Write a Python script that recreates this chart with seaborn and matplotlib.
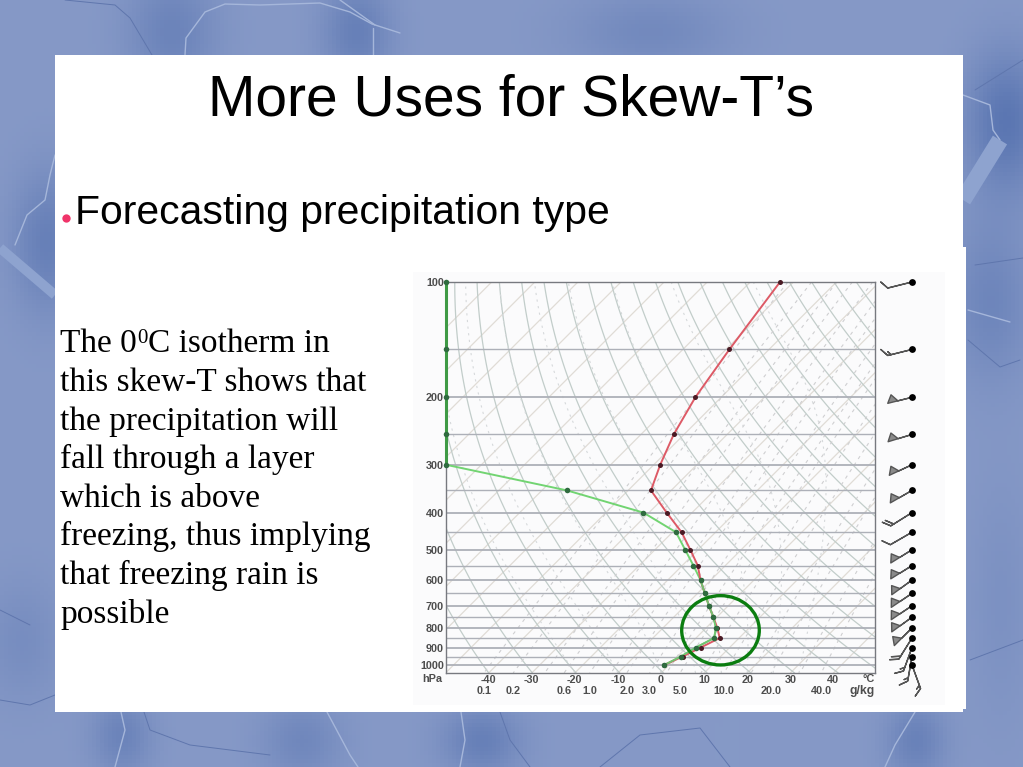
import numpy as np
import pandas as pd
import matplotlib
matplotlib.use("Agg")
import matplotlib.pyplot as plt
from matplotlib.patches import Rectangle, Ellipse
import seaborn as sns

TITLE = "More Uses for Skew-T\u2019s"
BULLET = "Forecasting precipitation type"
BODY = ["this skew-T shows that", "the precipitation will", "fall through a layer",
        "which is above", "freezing, thus implying", "that freezing rain is", "possible"]

levels = [100, 150, 200, 250, 300, 350, 400, 450, 500, 550, 600, 650, 700, 750, 800, 850, 900, 950, 1000]
temperature = [-63.1, -59.2, -56.0, -52.4, -48.5, -44.7, -35.9, -27.9, -21.8, -16.4, -12.4, -8.3, -4.5, -0.8, 2.6, 5.5, 3.3, 1.2, -1.1]
dewpoint = [-141.0, -126.0, -115.0, -106.0, -99.0, -64.2, -41.3, -29.2, -23.0, -17.4, -12.4, -8.3, -4.5, -0.8, 2.3, 4.2, 2.2, 0.8, -1.1]
wind_speed = [10, 15, 50, 50, 50, 50, 20, 10, 50, 50, 50, 50, 50, 50, 50, 20, 15, 15, 15]
wind_dir = [256, 256, 256, 253, 245, 240, 238, 240, 238, 238, 234, 236, 236, 234, 225, 212, 200, 190, 160]

pressure_ticks = [100, 200, 300, 400, 500, 600, 700, 800, 900, 1000]
temp_ticks = [-40, -30, -20, -10, 0, 10, 20, 30, 40]
mixing_labels = ["0.1", "0.2", "0.6", "1.0", "2.0", "3.0", "5.0", "10.0", "20.0", "40.0"]
mixing_values = [0.1, 0.2, 0.6, 1.0, 2.0, 3.0, 5.0, 10.0, 20.0, 40.0]
mixing_grid = [0.1, 0.2, 0.4, 0.6, 1, 1.5, 2, 3, 4, 5, 7, 10, 15, 20, 30, 40]
theta_grid = list(range(200, 560, 10))
moist_grid = [-20, -10, 0, 8, 14, 20, 26, 32]
isotherm_grid = list(range(-140, 60, 10))

W, H = 1023, 767
P_BOTTOM, P_TOP = 1049.0, 100.0
SKEW = 88.86


def skew(t, p):
    return np.asarray(t, float) + SKEW * np.log10(P_BOTTOM / np.asarray(p, float))


sns.set_theme(style="white")
plt.rcParams["font.family"] = ["Liberation Sans", "DejaVu Sans"]
fig = plt.figure(figsize=(W / 100, H / 100), dpi=100)


def axes_px(x0, y0, x1, y1, **kw):
    return fig.add_axes([x0 / W, 1 - y1 / H, (x1 - x0) / W, (y1 - y0) / H], **kw)


# page background: soft blue with darker clouds and veins
bg = axes_px(0, 0, W, H)
bg.set_xlim(0, W)
bg.set_ylim(H, 0)
bg.axis("off")
yy, xx = np.mgrid[0:H:4, 0:W:4]
shade = np.zeros_like(xx, float)
blobs = [(170, 30, 45, 60, .55), (355, 30, 35, 50, .65), (45, 240, 35, 70, .65), (120, 735, 30, 40, .55),
         (300, 740, 40, 40, .45), (480, 740, 40, 35, .65), (915, 740, 30, 40, .6), (1005, 120, 40, 70, .9),
         (990, 300, 40, 80, .5), (650, 30, 80, 40, .4), (20, 640, 40, 60, .3), (1000, 600, 30, 120, .2)]
for bx_, by_, sx, sy, a in blobs:
    shade += a * np.exp(-((xx - bx_) / sx) ** 2 - ((yy - by_) / sy) ** 2)
shade = np.clip(shade, 0, 1)[..., None]
light, dark = np.array([0.525, 0.60, 0.78]), np.array([0.34, 0.45, 0.69])
bg.imshow(light * (1 - shade) + dark * shade, extent=(0, W, H, 0), aspect="auto", zorder=0)
veins_light = [[(185, 55), (186, 38), (205, 12), (225, 4), (260, 5), (320, 3), (350, 12), (372, 24), (400, 33)],
               ((340, 0), (375, 25)), ((373, 28), (373, 55)),
               [(55, 155), (50, 175), (45, 200), (27, 215), (15, 245)],
               [(963, 95), (990, 105), (993, 130), (1000, 140)], [(121, 712), (125, 730), (115, 767)],
               [(327, 712), (350, 755), (358, 767)], [(461, 712), (465, 740), (460, 767)],
               [(915, 712), (895, 745), (885, 767)], [(968, 310), (1010, 322)]]
veins_dark = [[(65, 0), (115, 5), (130, 18), (152, 55)], [(975, 90), (1023, 60)], [(975, 265), (1023, 258)],
              [(144, 712), (150, 730), (190, 745), (270, 755)], [(500, 712), (510, 740), (530, 767)],
              [(600, 767), (640, 735), (700, 728), (730, 767)], [(968, 340), (1000, 367), (1020, 360)],
              [(970, 660), (1023, 640)], [(0, 700), (30, 705), (55, 695)], [(0, 610), (30, 625)]]
for v in veins_light:
    a = np.array(v)
    bg.plot(a[:, 0], a[:, 1], color="#a5b6da", lw=1.0, zorder=1)
for v in veins_dark:
    a = np.array(v)
    bg.plot(a[:, 0], a[:, 1], color="#5f76ad", lw=0.7, zorder=1)
bg.plot([0, 55], [248, 295], color="#8ea3cf", lw=7, zorder=1, solid_capstyle="butt")
bg.plot([1000, 963], [140, 200], color="#8ea3cf", lw=12, zorder=1, solid_capstyle="butt")

# white slide panels
bg.add_patch(Rectangle((55, 55), 908, 657, fc="white", ec="none", zorder=2))
bg.add_patch(Rectangle((55, 247), 911, 462, fc="white", ec="none", zorder=2))
bg.add_patch(Rectangle((413, 272), 532, 433, fc="#fbfbfc", ec="none", zorder=3))

# slide text
bg.text(511, 116, TITLE, fontsize=41, ha="center", va="baseline", color="black", zorder=5)
bg.text(75, 224, BULLET, fontsize=29.4, ha="left", va="baseline", color="black", zorder=5)
bg.plot([66], [218], "o", color="#f0346a", ms=6, mew=0, zorder=5)
serif = ["Liberation Serif", "DejaVu Serif"]
BODY_SIZE = 24
bg.text(60, 352, "The 0", family=serif, fontsize=BODY_SIZE, va="baseline", color="black", zorder=5)
bg.text(137.5, 343, "0", family=serif, fontsize=15, va="baseline", color="black", zorder=5)
bg.text(148, 352, "C isotherm in", family=serif, fontsize=BODY_SIZE, va="baseline", color="black", zorder=5)
for i, line in enumerate(BODY):
    bg.text(60, 391 + i * 38.6, line, family=serif, fontsize=BODY_SIZE, va="baseline", color="black", zorder=5)

# skew-T diagram
ax = axes_px(446, 282, 875, 673)
ax.patch.set_alpha(0)
ax.set_yscale("log")
ax.set_ylim(P_BOTTOM, P_TOP)
ax.set_xlim(-49.9, 49.65)

pp = np.geomspace(P_TOP, P_BOTTOM, 120)
for t in isotherm_grid:
    ax.plot(skew(np.full_like(pp, t), pp), pp, color="#e0dcd6", lw=0.9, zorder=1)
for th in theta_grid:
    ax.plot(skew(th * (pp / 1000) ** 0.286 - 273.15, pp), pp, color="#c2cdca", lw=0.9, zorder=1)
for w in mixing_grid:
    e = pp * w / (622 + w)
    ln = np.log(e / 6.112)
    ax.plot(skew(243.5 * ln / (17.67 - ln), pp), pp, color="#cfcfd1", lw=0.8, ls=(0, (3, 4)), zorder=1)
for t0 in moist_grid:
    ps = np.geomspace(1049, 100, 200)
    ts = [t0 + 273.15]
    for a, b in zip(ps[:-1], ps[1:]):
        T = ts[-1]
        tc = T - 273.15
        es = 6.112 * np.exp(17.67 * tc / (tc + 243.5))
        rs = 0.622 * es / (a - es)
        g = (287 * T + 2.5e6 * rs) / (1004 + 2.5e6 ** 2 * rs * 0.622 / (287 * T * T)) / a
        ts.append(T + g * (b - a))
    ax.plot(skew(np.array(ts) - 273.15, ps), ps, color="#d6d9db", lw=0.8, ls=(0, (2, 4)), zorder=1)
for p in levels:
    ax.axhline(p, color="#adb0b8", lw=1.0 if p % 100 else 1.3, zorder=2)

df = pd.DataFrame({"p": levels, "T": skew(temperature, levels), "Td": skew(dewpoint, levels)})
df["Td"] = df["Td"].clip(lower=-49.9)
sns.lineplot(data=df, x="Td", y="p", sort=False, estimator=None, ax=ax, color="#72d472", lw=1.4, zorder=4, clip_on=False)
sns.lineplot(data=df, x="T", y="p", sort=False, estimator=None, ax=ax, color="#dd5a66", lw=1.4, zorder=5)
sns.lineplot(data=df[df["p"] >= 600], x="Td", y="p", sort=False, estimator=None, ax=ax, color="#72c472", lw=1.3, zorder=6)
ax.plot(df["Td"][:5], df["p"][:5], color="#3f9a45", lw=2.2, zorder=6, clip_on=False)
sns.scatterplot(data=df, x="T", y="p", ax=ax, color="#4a1a24", s=13, linewidth=0, zorder=7, clip_on=False)
sns.scatterplot(data=df, x="Td", y="p", ax=ax, color="#2f6b3f", s=16, linewidth=0, zorder=8, clip_on=False)
ax.set_xlabel("")
ax.set_ylabel("")
for s in ax.spines.values():
    s.set_color("#77797f")
    s.set_linewidth(1.0)
    s.set_visible(True)
label_style = dict(color="#4d4d4d", fontweight="bold", fontsize=7.8)
ax.set_yticks(pressure_ticks)
ax.set_yticklabels([str(p) for p in pressure_ticks], **label_style)
ax.yaxis.set_minor_locator(matplotlib.ticker.NullLocator())
ax.set_xticks(temp_ticks)
ax.set_xticklabels([str(t) for t in temp_ticks], **label_style)
ax.tick_params(axis="both", length=0, pad=1.5)
ax.tick_params(axis="x", pad=1.5)
trans = ax.get_xaxis_transform()
for lab, w in zip(mixing_labels, mixing_values):
    e = P_BOTTOM * w / (622 + w)
    ln = np.log(e / 6.112)
    ax.text(243.5 * ln / (17.67 - ln), -0.046, lab, transform=trans, ha="center", va="center", **label_style)
ax.text(-0.009, -0.016, "hPa", transform=ax.transAxes, ha="right", va="center", **label_style)
ax.text(1, -0.016, "\u00b0C", transform=ax.transAxes, ha="right", va="center", **label_style)
ax.text(1, -0.046, "g/kg", transform=ax.transAxes, ha="right", va="center", **{**label_style, "fontsize": 8.8})

# wind barbs
bx = axes_px(880, 282, 925, 673)
bx.patch.set_alpha(0)
bx.axis("off")
bx.set_yscale("log")
bx.set_ylim(P_BOTTOM, P_TOP)
bx.set_xlim(880, 925)
rad = np.deg2rad(wind_dir)
spd = np.array(wind_speed, float)
bx.barbs(np.full(len(levels), 912.0), levels, -spd * np.sin(rad), -spd * np.cos(rad),
         length=6.0, linewidth=1.0, barbcolor="#555555", flagcolor="#8a8a8a", clip_on=False, zorder=3,
         sizes=dict(emptybarb=0.0, spacing=0.14, height=0.3, width=0.42))
sns.scatterplot(x=[912.0] * len(levels), y=levels, ax=bx, color="black", s=24, linewidth=0, zorder=5, clip_on=False)
bx.set_xlabel("")
bx.set_ylabel("")
bx.axis("off")

# highlight ring
top = axes_px(0, 0, W, H)
top.patch.set_alpha(0)
top.axis("off")
top.set_xlim(0, W)
top.set_ylim(H, 0)
top.add_patch(Ellipse((720.5, 630.3), 77.6, 69.3, fc="none", ec="#0b7d10", lw=2.4))

fig.savefig("out.png", dpi=100)
